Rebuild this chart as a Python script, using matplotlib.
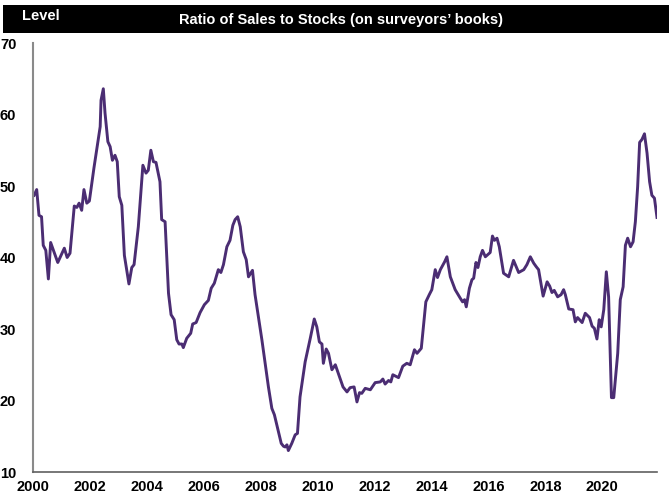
import matplotlib
matplotlib.use('Agg')
import matplotlib.pyplot as plt
from matplotlib.patches import Rectangle

# monthly-ish readings of the ratio (decimal year, level)
years = [2000.04, 2000.13, 2000.21, 2000.30, 2000.36, 2000.45, 2000.54, 2000.62, 2000.87, 2001.10,
         2001.20, 2001.30, 2001.45, 2001.54, 2001.62, 2001.71, 2001.79, 2001.89, 2001.98, 2002.14,
         2002.36, 2002.39, 2002.47, 2002.53, 2002.63, 2002.71, 2002.79, 2002.88, 2002.96, 2003.03,
         2003.12, 2003.21, 2003.37, 2003.47, 2003.55, 2003.70, 2003.86, 2003.97, 2004.05, 2004.14,
         2004.23, 2004.32, 2004.46, 2004.52, 2004.64, 2004.76, 2004.85, 2004.96, 2005.05, 2005.13,
         2005.23, 2005.28, 2005.40, 2005.54, 2005.61, 2005.73, 2005.87, 2006.02, 2006.16, 2006.26,
         2006.37, 2006.51, 2006.60, 2006.69, 2006.81, 2006.92, 2007.02, 2007.10, 2007.19, 2007.28,
         2007.39, 2007.49, 2007.57, 2007.71, 2007.80, 2008.04, 2008.27, 2008.39, 2008.48, 2008.72,
         2008.80, 2008.86, 2008.92, 2008.97, 2009.09, 2009.21, 2009.29, 2009.38, 2009.56, 2009.74,
         2009.88, 2009.97, 2010.06, 2010.15, 2010.20, 2010.30, 2010.38, 2010.50, 2010.62, 2010.77,
         2010.89, 2011.03, 2011.14, 2011.28, 2011.38, 2011.47, 2011.55, 2011.67, 2011.85, 2012.02,
         2012.20, 2012.29, 2012.37, 2012.49, 2012.57, 2012.64, 2012.84, 2012.99, 2013.13, 2013.25,
         2013.40, 2013.49, 2013.64, 2013.80, 2013.92, 2014.01, 2014.13, 2014.21, 2014.31, 2014.46,
         2014.54, 2014.66, 2014.83, 2015.01, 2015.09, 2015.16, 2015.22, 2015.33, 2015.42, 2015.48,
         2015.56, 2015.63, 2015.71, 2015.79, 2015.89, 2016.06, 2016.14, 2016.21, 2016.30, 2016.38,
         2016.53, 2016.71, 2016.88, 2017.06, 2017.24, 2017.35, 2017.47, 2017.59, 2017.68, 2017.76,
         2017.82, 2017.92, 2018.06, 2018.15, 2018.23, 2018.31, 2018.43, 2018.55, 2018.64, 2018.70,
         2018.82, 2018.97, 2019.05, 2019.13, 2019.29, 2019.40, 2019.55, 2019.64, 2019.72, 2019.81,
         2019.89, 2019.96, 2020.05, 2020.14, 2020.22, 2020.32, 2020.40, 2020.54, 2020.63, 2020.73,
         2020.81, 2020.89, 2020.99, 2021.08, 2021.16, 2021.24, 2021.31, 2021.39, 2021.48, 2021.57,
         2021.66, 2021.74, 2021.83, 2021.92]
ratio = [48.7, 49.5, 45.9, 45.7, 41.7, 41.0, 37.0, 42.1, 39.3, 41.3,
         40.0, 40.6, 47.2, 47.0, 47.6, 46.6, 49.5, 47.6, 47.9, 52.5,
         58.3, 62.0, 63.6, 60.2, 56.2, 55.5, 53.6, 54.3, 53.4, 48.5,
         47.3, 40.3, 36.3, 38.6, 39.0, 44.3, 52.9, 51.8, 52.2, 55.0,
         53.4, 53.3, 50.6, 45.3, 45.0, 35.0, 32.0, 31.3, 28.5, 27.9,
         27.9, 27.4, 28.7, 29.4, 30.7, 30.9, 32.3, 33.4, 34.0, 35.7,
         36.4, 38.3, 37.9, 39.0, 41.5, 42.4, 44.5, 45.3, 45.7, 44.3,
         40.8, 39.7, 37.3, 38.2, 34.8, 28.5, 21.9, 18.9, 18.0, 14.0,
         13.6, 13.5, 13.8, 13.0, 14.0, 15.2, 15.4, 20.5, 25.4, 28.7,
         31.4, 30.3, 28.2, 27.9, 25.2, 27.2, 26.6, 24.3, 25.0, 23.3,
         21.9, 21.2, 21.8, 21.9, 19.8, 21.1, 21.0, 21.7, 21.5, 22.5,
         22.6, 23.0, 22.3, 22.8, 22.6, 23.6, 23.2, 24.8, 25.2, 25.0,
         27.1, 26.6, 27.3, 33.8, 34.8, 35.5, 38.3, 37.2, 38.3, 39.4,
         40.1, 37.3, 35.5, 34.3, 33.8, 34.1, 33.1, 35.7, 36.9, 37.1,
         39.3, 38.6, 40.1, 41.0, 40.1, 40.7, 43.0, 42.4, 42.7, 41.5,
         37.8, 37.3, 39.6, 37.9, 38.3, 39.0, 40.1, 39.2, 38.7, 38.3,
         36.9, 34.6, 36.6, 36.0, 35.1, 35.4, 34.5, 34.8, 35.5, 34.8,
         32.8, 32.7, 31.0, 31.6, 30.9, 32.2, 31.6, 30.4, 30.1, 28.6,
         31.3, 30.3, 32.7, 38.0, 34.5, 20.4, 20.4, 26.6, 34.1, 35.9,
         41.7, 42.7, 41.5, 42.2, 45.0, 49.9, 56.1, 56.5, 57.3, 54.6,
         50.6, 48.7, 48.3, 45.6]

tick_years = list(range(2000, 2021, 2))
y_ticks = [10, 20, 30, 40, 50, 60, 70]

plt.rcParams['font.family'] = ['Liberation Sans', 'DejaVu Sans']
plt.rcParams['font.weight'] = 'bold'

fig = plt.figure(figsize=(6.69, 4.95), dpi=100)
ax = fig.add_axes([33 / 669, 1 - 472 / 495, 624 / 669, 429 / 495])

ax.plot(years, ratio, color='#4b2d73', linewidth=2.1, solid_joinstyle='round')

ax.set_xlim(2000, 2021.92)
ax.set_ylim(10, 70)
ax.set_xticks(tick_years)
ax.set_xticklabels([str(y) for y in tick_years], fontsize=10.5, fontweight='bold')
ax.set_yticks(y_ticks)
ax.set_yticklabels([str(v) for v in y_ticks], fontsize=10.5, fontweight='bold')
ax.tick_params(axis='both', length=0)
ax.tick_params(axis='y', pad=12)
ax.tick_params(axis='x', pad=6)

for side in ['top', 'right']:
    ax.spines[side].set_visible(False)
ax.spines['left'].set_color('#8a8a8a')
ax.spines['left'].set_linewidth(1.5)
ax.spines['bottom'].set_color('#606060')
ax.spines['bottom'].set_linewidth(1.2)

# black header band
fig.patches.append(Rectangle((0.004, 1 - 33 / 495), 0.996, 28 / 495, transform=fig.transFigure,
                             facecolor='black', edgecolor='none'))
fig.text(22 / 669, 1 - 16 / 495, 'Level', color='white', fontsize=10.5, fontweight='bold',
         ha='left', va='center')
fig.text(341 / 669, 1 - 20 / 495, 'Ratio of Sales to Stocks (on surveyors\u2019 books)', color='white',
         fontsize=10.5, fontweight='bold', ha='center', va='center')

fig.savefig('out.png', dpi=100)
